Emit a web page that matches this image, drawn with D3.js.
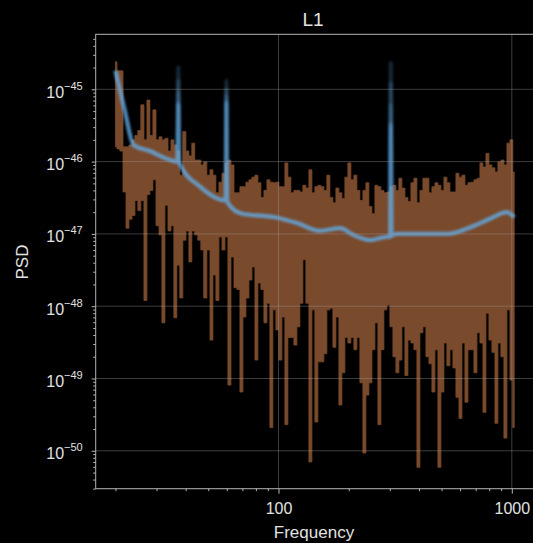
<!DOCTYPE html>
<html>
<head>
<meta charset="utf-8">
<script src="https://cdn.jsdelivr.net/npm/d3@7"></script>
<style>
  body { margin: 0; background: #000; }
  svg { display: block; font-family: "Liberation Sans", Arial, sans-serif; }
</style>
</head>
<body>
<div id="chart"></div>
<script>
// Frequency bins (Hz) of the measured PSD
const freqs = [
    20.0, 20.6, 21.2, 21.9, 22.5, 23.2, 23.9, 24.6, 25.3, 26.1,
    26.9, 27.7, 28.5, 29.4, 30.3, 31.2, 32.1, 33.1, 34.1, 35.1,
    36.1, 37.2, 38.3, 39.5, 40.7, 41.9, 43.1, 44.4, 45.8, 47.1,
    48.5, 50.1, 51.6, 53.1, 54.7, 56.4, 58.1, 59.8, 61.6, 63.5,
    65.4, 67.3, 69.4, 71.4, 73.6, 75.8, 78.1, 80.4, 82.8, 85.3,
    87.9, 90.5, 93.2, 96.0, 98.9, 101.9, 104.9, 108.1, 111.3, 114.7,
    118.1, 121.7, 125.3, 129.1, 133.0, 137.0, 141.1, 145.3, 149.7, 154.2,
    158.8, 163.6, 168.5, 173.6, 178.8, 184.2, 189.7, 195.4, 201.3, 207.3,
    213.6, 220.0, 226.6, 233.4, 240.4, 247.7, 255.1, 262.8, 270.7, 278.8,
    287.2, 295.8, 304.7, 313.9, 323.3, 333.0, 343.1, 353.4, 364.0, 375.0,
    386.2, 397.8, 409.8, 422.1, 434.8, 447.9, 461.3, 475.2, 489.5, 504.2,
    519.3, 535.0, 551.1, 567.6, 584.7, 602.3, 620.4, 639.0, 658.2, 678.0,
    698.4, 719.3, 741.0, 763.2, 786.2, 809.8, 834.1, 859.2, 885.0, 911.6,
    939.0, 967.3, 996.3, 1024
];

// highest PSD value in each bin
const psdUpper = [
    2.4e-45, 1.8e-45, 1.8e-45, 1.6e-46, 1.6e-46, 1.7e-46, 2.0e-46, 2.3e-46, 2.7e-46, 6.1e-46,
    2.0e-46, 7.1e-46, 2.3e-46, 5.2e-46, 2.0e-46, 2.2e-46, 2.0e-46, 2.1e-46, 1.4e-46, 2.0e-46,
    1.7e-46, 1.4e-46, 6.5e-47, 2.6e-46, 1.4e-46, 1.2e-46, 1.8e-46, 1.05e-46, 1.05e-46, 9.0e-47,
    9.9e-47, 6.5e-47, 7.7e-47, 6.5e-47, 3.7e-47, 5.2e-47, 6.9e-47, 9.6e-47, 1.05e-46, 9.0e-47,
    3.7e-47, 3.7e-47, 4.5e-47, 4.5e-47, 5.2e-47, 5.6e-47, 6.1e-47, 6.5e-47, 5.1e-47, 3.2e-47,
    4.0e-47, 5.6e-47, 5.2e-47, 5.1e-47, 5.2e-47, 4.5e-47, 4.5e-47, 9.6e-47, 6.1e-47, 3.7e-47,
    4.0e-47, 4.0e-47, 3.8e-47, 4.7e-47, 4.3e-47, 7.7e-47, 3.7e-47, 4.5e-47, 4.7e-47, 4.5e-47,
    4.0e-47, 6.5e-47, 3.2e-47, 2.7e-47, 4.3e-47, 3.7e-47, 3.1e-47, 6.1e-47, 9.6e-47, 5.6e-47,
    6.5e-47, 4.0e-47, 2.9e-47, 4.0e-47, 5.1e-47, 2.4e-47, 1.9e-47, 4.7e-47, 4.5e-47, 4.0e-47,
    3.7e-47, 3.8e-47, 4.5e-47, 4.7e-47, 4.0e-47, 5.9e-47, 4.3e-47, 3.2e-47, 2.8e-47, 5.1e-47,
    5.9e-47, 2.7e-47, 4.0e-47, 5.9e-47, 5.9e-47, 3.7e-47, 4.5e-47, 5.1e-47, 4.7e-47, 4.0e-47,
    6.1e-47, 5.1e-47, 3.8e-47, 3.8e-47, 6.9e-47, 6.1e-47, 6.5e-47, 4.7e-47, 5.1e-47, 5.2e-47,
    5.6e-47, 5.9e-47, 9.6e-47, 8.4e-47, 1.3e-46, 9.0e-47, 8.2e-47, 7.2e-47, 9.9e-47, 1.05e-46,
    9.0e-47, 1.8e-46, 2.0e-46, 7.2e-47
];

// lowest PSD value in each bin
const psdLower = [
    1.6e-46, 1.5e-46, 1.4e-46, 3.8e-47, 1.2e-47, 1.6e-47, 1.8e-47, 2.9e-47, 2.1e-47, 2.9e-47,
    1.2e-48, 3.5e-47, 4.0e-47, 5.6e-47, 1.3e-47, 9.7e-48, 5.9e-49, 2.5e-47, 1.1e-47, 1.3e-47,
    6.9e-49, 3.7e-48, 1.3e-48, 8.2e-48, 1.1e-47, 4.1e-48, 1.1e-47, 9.7e-48, 8.2e-48, 6.0e-48,
    1.3e-48, 6.0e-48, 3.4e-49, 2.7e-48, 1.2e-48, 9.1e-48, 6.0e-48, 9.1e-48, 8.1e-50, 4.8e-48,
    1.8e-48, 1.7e-48, 6.5e-50, 7.1e-49, 1.3e-48, 2.3e-48, 3.5e-48, 1.8e-49, 2.1e-48, 1.7e-48,
    5.9e-49, 1.1e-48, 2.1e-50, 8.9e-49, 4.7e-49, 1.8e-49, 7.1e-49, 2.3e-50, 3.7e-49, 3.7e-49,
    2.9e-49, 5.2e-49, 1.1e-48, 4.4e-48, 1.1e-48, 7.0e-51, 8.9e-49, 2.5e-50, 1.7e-49, 1.7e-49,
    2.2e-49, 8.9e-49, 9.4e-49, 2.7e-49, 7.1e-49, 4.3e-50, 1.2e-49, 3.7e-49, 3.1e-49, 3.7e-49,
    2.5e-49, 3.7e-49, 8.7e-50, 9.3e-51, 5.9e-50, 8.7e-50, 2.5e-49, 5.9e-49, 2.3e-50, 2.5e-49,
    8.9e-49, 1.04e-48, 5.2e-49, 2.0e-49, 1.2e-49, 1.8e-49, 5.2e-49, 1.1e-49, 3.4e-49, 3.1e-49,
    2.5e-49, 5.9e-51, 4.3e-49, 5.2e-49, 2.0e-49, 1.6e-49, 6.5e-50, 2.5e-49, 5.9e-51, 6.5e-50,
    3.1e-49, 1.5e-49, 2.5e-49, 1.4e-49, 5.5e-50, 2.8e-50, 3.1e-49, 4.7e-50, 2.5e-49, 2.5e-49,
    1.2e-49, 4.3e-49, 3.1e-49, 3.4e-50, 8.0e-49, 3.4e-49, 2.3e-49, 2.4e-50, 3.1e-49, 2.0e-49,
    1.5e-50, 8.9e-49, 9.5e-50, 2.1e-50
];

// smooth PSD model (blue), without the narrow lines
const modelFreqs = [20, 21.9, 23.9, 28.1, 33.1, 36.9, 37.5, 46.1, 59.4, 60.2, 69.8, 96.6, 121, 150,
    184, 209, 247, 291, 301, 305, 321, 446, 533, 649, 820, 951, 1024];
const modelPsd = [1.8e-45, 5.2e-46, 1.7e-46, 1.4e-46, 1.1e-46, 1.0e-46, 9.8e-47, 4.5e-47, 2.9e-47, 2.8e-47,
    1.9e-47, 1.7e-47, 1.4e-47, 1.1e-47, 1.2e-47, 9.7e-48, 8.2e-48, 9.1e-48, 9.1e-48, 9.5e-48,
    1.0e-47, 1.0e-47, 1.0e-47, 1.2e-47, 1.66e-47, 2.0e-47, 1.7e-47];

// narrow lines and their peak heights in each model draw
const lineFreqs = [37.2, 59.8, 303];
const linePeaks = [
    [2.0e-45, 1.3e-45, 2.3e-45],
    [1.3e-45, 1.0e-45, 1.2e-45],
    [9.0e-46, 8.0e-46, 6.0e-46],
    [6.4e-46, 6.7e-46, 3.4e-46],
    [6.2e-46, 6.5e-46, 3.2e-46],
    [6.0e-46, 6.2e-46, 3.0e-46]
];

const xMajor = [100, 1000];
const xMajorLabels = ["100", "1000"];
const yMajor = [1e-45, 1e-46, 1e-47, 1e-48, 1e-49, 1e-50];
const yMajorExp = ["\u221245", "\u221246", "\u221247", "\u221248", "\u221249", "\u221250"];

const W = 533, H = 543;
const plotLeft = 95.7, plotTop = 34.3;
const width = 534 - plotLeft, height = 488.7 - plotTop;

const svg = d3.select("#chart").append("svg")
    .attr("width", W).attr("height", H);
svg.append("rect").attr("width", W).attr("height", H).attr("fill", "#000");

const defs = svg.append("defs");
defs.append("clipPath").attr("id", "plot")
    .append("rect").attr("width", width).attr("height", height);
defs.append("filter").attr("id", "soft")
    .append("feGaussianBlur").attr("stdDeviation", 0.9);

const g = svg.append("g").attr("transform", `translate(${plotLeft},${plotTop})`);

const x = d3.scaleLog().domain([16.46, 1245]).range([0, width]);
const y = d3.scaleLog().domain([2.99e-51, 5.77e-45]).range([height, 0]);

const plot = g.append("g").attr("clip-path", "url(#plot)");

// data PSD band
const bins = freqs.map((f, i) => ({ f, hi: psdUpper[i], lo: psdLower[i] }));
plot.append("path")
    .datum(bins)
    .attr("fill", "#7a4a2c")
    .attr("stroke", "#7a4a2c")
    .attr("stroke-width", 0.8)
    .attr("d", d3.area()
        .x(d => x(d.f))
        .y0(d => y(d.lo))
        .y1(d => y(d.hi))
        .curve(d3.curveStep));

// model draws, stacked translucent
const modelLine = d3.line()
    .x(d => x(d.f))
    .y(d => y(d.v))
    .curve(d3.curveMonotoneX);
const blue = plot.append("g").attr("filter", "url(#soft)");
linePeaks.forEach(peaks => {
    const pts = modelFreqs.map((f, i) => ({ f, v: modelPsd[i] }))
        .concat(lineFreqs.map((f, j) => ({ f, v: peaks[j] })))
        .sort((a, b) => a.f - b.f);
    blue.append("path")
        .datum(pts)
        .attr("fill", "none")
        .attr("stroke", "#66aeea")
        .attr("stroke-opacity", 0.22)
        .attr("stroke-width", 4.2)
        .attr("stroke-linejoin", "round")
        .attr("d", modelLine);
});

// grid
const grid = g.append("g").attr("stroke", "#a0a0a0").attr("stroke-opacity", 0.42).attr("stroke-width", 0.9);
grid.selectAll(".gx").data(xMajor).join("line")
    .attr("x1", d => x(d)).attr("x2", d => x(d)).attr("y1", 0).attr("y2", height);
grid.selectAll(".gy").data(yMajor).join("line")
    .attr("y1", d => y(d)).attr("y2", d => y(d)).attr("x1", 0).attr("x2", width);

// axes
const axisColor = "#b4b4b4", textColor = "#e2e2e2";
const isMajor = v => Math.abs(Math.log10(v) - Math.round(Math.log10(v))) < 1e-6;

const gxMinor = g.append("g").attr("transform", `translate(0,${height})`)
    .call(d3.axisBottom(x).tickValues(x.ticks().filter(v => !isMajor(v)))
        .tickSize(2.5).tickSizeOuter(0).tickFormat(""));
const gxMajor = g.append("g").attr("transform", `translate(0,${height})`)
    .call(d3.axisBottom(x).tickValues(xMajor).tickSize(5).tickSizeOuter(0)
        .tickFormat((d, i) => xMajorLabels[i]));
gxMajor.selectAll(".tick text")
    .attr("y", 25).attr("dy", null)
    .attr("font-size", 16).attr("fill", textColor);

const gyMinor = g.append("g")
    .call(d3.axisLeft(y).tickValues(y.ticks().filter(v => !isMajor(v)))
        .tickSize(2.5).tickSizeOuter(0).tickFormat(""));
const gyMajor = g.append("g")
    .call(d3.axisLeft(y).tickValues(yMajor).tickSize(4).tickSizeOuter(0).tickFormat(() => "10"));
gyMajor.selectAll(".tick text")
    .attr("x", -13).attr("dy", "0.5em")
    .attr("font-size", 16).attr("fill", textColor)
    .each(function (d, i) {
        d3.select(this).append("tspan")
            .attr("dy", -8).attr("font-size", 11)
            .text(yMajorExp[i]);
    });

[gxMinor, gxMajor, gyMinor, gyMajor].forEach(a => {
    a.select(".domain").remove();
    a.selectAll(".tick line").attr("stroke", axisColor);
});

// frame
g.append("rect")
    .attr("width", width).attr("height", height)
    .attr("fill", "none").attr("stroke", axisColor).attr("stroke-width", 1);

// labels
svg.append("text")
    .attr("x", 313).attr("y", 26)
    .attr("text-anchor", "middle").attr("font-size", 19).attr("fill", textColor)
    .text("L1");
svg.append("text")
    .attr("x", 314).attr("y", 538)
    .attr("text-anchor", "middle").attr("font-size", 17).attr("fill", textColor)
    .text("Frequency");
svg.append("text")
    .attr("transform", "translate(28,262) rotate(-90)")
    .attr("text-anchor", "middle").attr("font-size", 17).attr("fill", textColor)
    .text("PSD");
</script>
</body>
</html>
